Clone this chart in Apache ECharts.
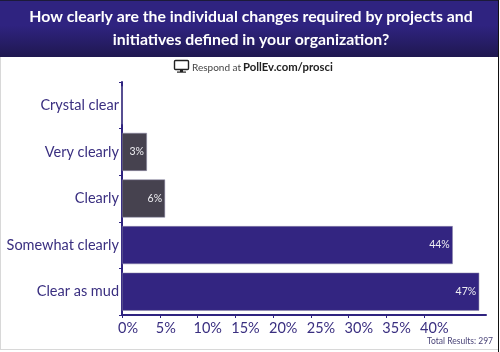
<!DOCTYPE html>
<html>
<head>
<meta charset="utf-8">
<script src="https://cdn.jsdelivr.net/npm/echarts@6/dist/echarts.min.js"></script>
<style>
html, body { margin: 0; padding: 0; background: #fff; }
#chart { width: 500px; height: 352px; }
</style>
</head>
<body>
<div id="chart"></div>
<script>
var categories = ['Crystal clear', 'Very clearly', 'Clearly', 'Somewhat clearly', 'Clear as mud'];
var values = [0, 3.3, 5.7, 43.8, 47.3];
var barColors = ['#46424f', '#46424f', '#46424f', '#332581', '#332581'];
var xTicks = [0, 5, 10, 15, 20, 25, 30, 35, 40];
var titleText = 'How clearly are the individual changes required by projects and\ninitiatives defined in your organization?';

var purple = '#3a2f80';
var fontName = 'Lato';
var chart = echarts.init(document.getElementById('chart'));

chart.setOption({
    animation: false,
    backgroundColor: '#fff',
    textStyle: { fontFamily: fontName },
    title: {
        text: titleText,
        left: 246,
        top: 0,
        textAlign: 'center',
        textStyle: { color: '#fff', fontSize: 15.8, fontWeight: 'bold', lineHeight: 23.5, fontFamily: fontName }
    },
    grid: { left: 122, right: 14, top: 82, bottom: 37 },
    xAxis: {
        type: 'value',
        min: 0,
        max: 48.2,
        interval: 5,
        splitLine: { show: false },
        axisLine: { show: true, lineStyle: { color: '#2f2380', width: 2 } },
        axisTick: { show: true, length: 3, lineStyle: { color: '#2f2380' }, customValues: xTicks },
        axisLabel: {
            color: purple, fontSize: 14.5, margin: 6, customValues: xTicks,
            align: 'left', padding: [0, 0, 0, -4],
            formatter: function (v) { return v + '%'; }
        }
    },
    yAxis: {
        type: 'category',
        inverse: true,
        data: categories,
        axisLine: { show: true, lineStyle: { color: '#2f2380', width: 2 } },
        axisTick: { show: true, length: 3, lineStyle: { color: '#2f2380' } },
        axisLabel: { color: purple, fontSize: 14.5, margin: 3 }
    },
    series: [{
        type: 'bar',
        barWidth: 38,
        data: values.map(function (v, i) {
            return { value: v, itemStyle: { color: barColors[i], borderColor: '#8f8aa8', borderWidth: 0.5 } };
        }),
        label: {
            show: true,
            position: 'insideRight',
            color: '#eeeef2',
            fontSize: 10.5,
            distance: 3,
            formatter: function (p) { return p.value ? Math.round(p.value) + '%' : ''; }
        }
    }],
    graphic: [
        // header band, sits behind the title
        { type: 'rect', z: -1, shape: { x: 0, y: 0, width: 498, height: 57 },
          style: { fill: new echarts.graphic.LinearGradient(0, 0, 0, 1, [
              { offset: 0, color: '#2f2380' }, { offset: 0.45, color: '#2f2380' }, { offset: 1, color: '#1f1850' }
          ]) } },
        { type: 'rect', z: -1, shape: { x: 0, y: 0, width: 498, height: 1 }, style: { fill: '#1c1a3a' } },
        // page edges
        { type: 'rect', z: -1, shape: { x: 0, y: 57, width: 1, height: 293 }, style: { fill: '#d8d8d8' } },
        { type: 'rect', z: -1, shape: { x: 0, y: 349, width: 498, height: 1 }, style: { fill: '#d8d8d8' } },
        { type: 'rect', z: -1, shape: { x: 498, y: 0, width: 1, height: 352 }, style: { fill: '#111' } },
        // monitor icon
        { type: 'rect', shape: { x: 174.5, y: 60.5, width: 14, height: 9, r: 1 },
          style: { fill: 'none', stroke: '#222', lineWidth: 1.4 } },
        { type: 'rect', shape: { x: 180, y: 70, width: 3, height: 2 }, style: { fill: '#222' } },
        { type: 'rect', shape: { x: 177, y: 71.5, width: 9, height: 1.2 }, style: { fill: '#222' } },
        { type: 'text', style: { x: 192, y: 68, text: 'Respond at', fill: '#444', fontSize: 10, fontFamily: fontName, verticalAlign: 'middle' } },
        { type: 'text', style: { x: 243, y: 67.5, text: 'PollEv.com/prosci', fill: '#222', fontSize: 11.3, fontWeight: 'bold', fontFamily: fontName, verticalAlign: 'middle' } },
        { type: 'text', style: { x: 493, y: 341, text: 'Total Results: 297', fill: '#4a4478', fontSize: 8.5, fontFamily: fontName, align: 'right', verticalAlign: 'middle' } }
    ]
});
</script>
</body>
</html>
